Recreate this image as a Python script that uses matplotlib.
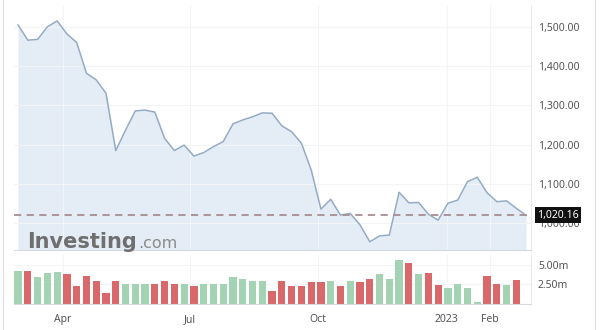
import numpy as np
import pandas as pd
from matplotlib import pyplot as plt
import matplotlib.dates as mdates
from matplotlib.ticker import FuncFormatter

# weekly closes and volumes (millions)
weeks = pd.date_range('2022-02-28', periods=53, freq='W-MON')
close = [1504.6, 1466, 1468, 1500, 1515, 1482, 1460, 1382, 1365, 1331,
         1185, 1237, 1286, 1288, 1283, 1216, 1185, 1199, 1171, 1180,
         1195, 1208, 1253, 1263, 1271, 1281, 1280, 1248, 1233, 1204,
         1136, 1036, 1061, 1021, 1025, 996, 953, 968, 970, 1079,
         1052, 1053, 1023, 1008, 1051, 1059, 1106, 1117, 1078, 1055,
         1057, 1038, 1020.16]
volume = [4.2, 4.2, 3.4, 4.0, 4.1, 3.8, 2.3, 3.6, 2.9, 1.4,
          2.9, 2.5, 2.6, 2.5, 2.6, 3.0, 2.6, 2.5, 2.3, 2.5,
          2.5, 2.5, 3.4, 3.2, 3.0, 2.9, 1.7, 2.9, 2.3, 2.3,
          2.8, 2.8, 2.9, 2.3, 2.9, 2.8, 3.2, 3.9, 3.2, 5.6,
          5.2, 3.9, 4.0, 2.4, 2.1, 2.5, 2.1, 0.3, 3.6, 2.5,
          2.4, 3.1, 0.0]
last_price = 1020.16
price_ticks = [1000, 1100, 1200, 1300, 1400, 1500]
vol_ticks = [2.5, 5.0]
month_ticks = pd.to_datetime(['2022-04-01', '2022-07-01', '2022-10-01', '2023-01-01', '2023-02-01'])
month_labels = ['Apr', 'Jul', 'Oct', '2023', 'Feb']

plt.rcParams['font.family'] = ['Noto Sans', 'DejaVu Sans']

up = np.r_[True, np.diff(close) >= 0]
bar_colors = np.where(up, '#a3d3b3', '#d9686b')

fig = plt.figure(figsize=(6, 3.3), dpi=100)

x0 = mdates.date2num(weeks[0])
xlim = (x0 - 2.9, x0 + 367.5)

W, H = 600, 330
ax = fig.add_axes([14 / W, 1 - 250 / H, 517 / W, 245 / H])
axv = fig.add_axes([14 / W, 1 - 304 / H, 517 / W, 49 / H])

# price pane
ax.fill_between(weeks, close, 900, color='#e4edf6', lw=0, zorder=1)
ax.plot(weeks, close, color='#94abc4', lw=1.1, zorder=2)
ax.axhline(last_price, color='#a88d92', lw=1.3, ls=(0, (4, 3)), zorder=3)
ax.set_xlim(xlim)
ax.set_ylim(932, 1555.5)
ax.set_yticks(price_ticks)
ax.yaxis.tick_right()
ax.yaxis.set_major_formatter(FuncFormatter(lambda v, p: f'{v:,.2f}'))
ax.set_xticks(month_ticks)
ax.set_xticklabels([])
ax.tick_params(axis='both', length=0, labelsize=7.5, labelcolor='#555555', pad=5)
ax.grid(True, color='#f2f4f6', lw=0.8, zorder=0)
for s in ['top', 'left']:
    ax.spines[s].set_visible(False)
ax.spines['bottom'].set_color('#d6d9dd')
ax.spines['right'].set_color('#e6e8ea')
ax.text(1.012, last_price, f'{last_price:,.2f}', transform=ax.get_yaxis_transform(),
        va='center', ha='left', fontsize=7.5, color='white', zorder=10, clip_on=False,
        bbox=dict(boxstyle='square,pad=0.25', fc='#111111', ec='none'))

# volume pane
axv.bar(weeks, volume, width=5.2, color=bar_colors, zorder=2)
axv.set_xlim(xlim)
axv.set_ylim(0, 6.28)
axv.set_yticks(vol_ticks)
axv.yaxis.tick_right()
axv.yaxis.set_major_formatter(FuncFormatter(lambda v, p: f'{v:.2f}m'))
axv.set_xticks(month_ticks)
axv.set_xticklabels(month_labels)
axv.tick_params(axis='both', length=0, labelsize=7.5, labelcolor='#555555', pad=5)
axv.tick_params(axis='x', pad=7)
axv.grid(True, color='#f2f4f6', lw=0.8, zorder=0)
for s in ['top', 'left']:
    axv.spines[s].set_visible(False)
axv.spines['bottom'].set_color('#d6d9dd')
axv.spines['right'].set_color('#e6e8ea')

# watermark
fig.text(27 / W, 1 - 248 / H, 'Investing', family='DejaVu Sans', weight='bold',
         fontsize=15, color='#6f6f6f', va='baseline', ha='left')
fig.text(138 / W, 1 - 248 / H, '.com', family='DejaVu Sans',
         fontsize=11.5, color='#8a8a8a', va='baseline', ha='left')

# outer frame lines
fig.add_artist(plt.Line2D([3 / W, 3 / W], [0, 1], color='#dddddd', lw=0.8))
fig.add_artist(plt.Line2D([595 / W, 595 / W], [0, 1], color='#dddddd', lw=0.8))

fig.savefig('out.png', dpi=100)
